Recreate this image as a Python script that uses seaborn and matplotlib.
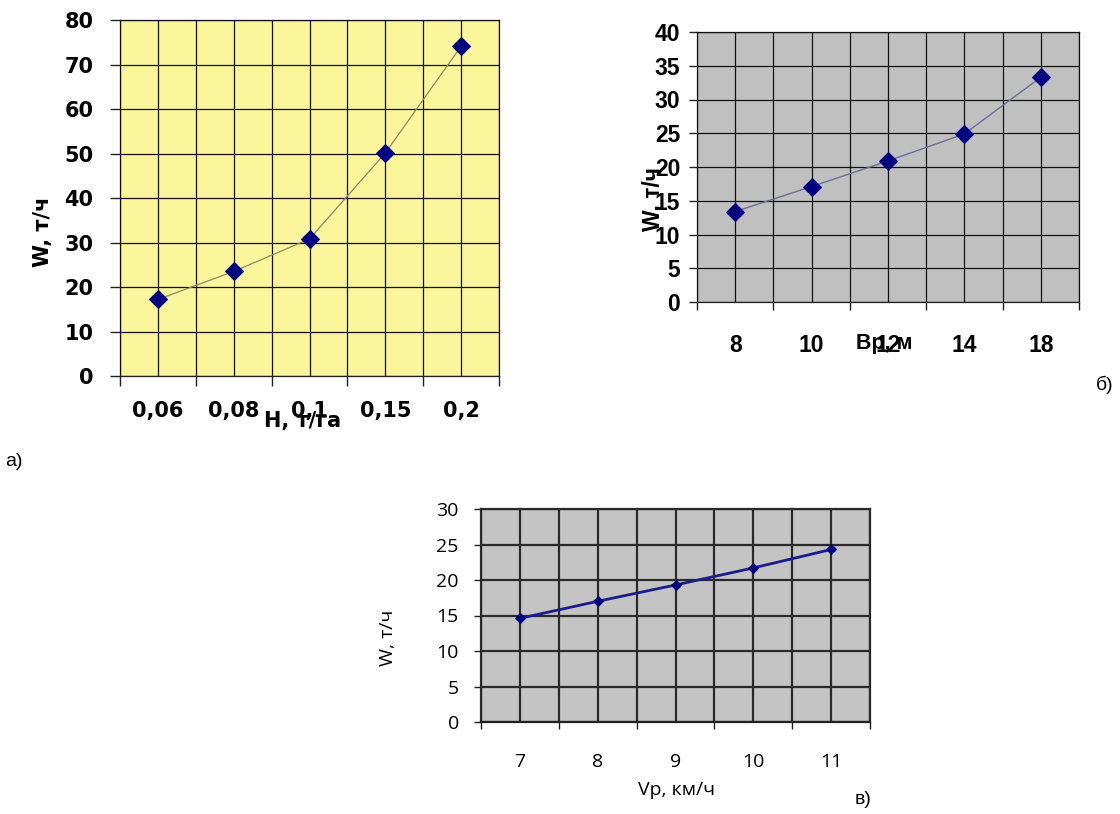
import numpy as np
import matplotlib
matplotlib.use("Agg")
import matplotlib.pyplot as plt
import seaborn as sns

# a) W vs H
a_cats = ["0,06", "0,08", "0,1", "0,15", "0,2"]
a_vals = [17.2, 23.5, 30.8, 50.1, 74.1]
# б) W vs Вр
b_cats = ["8", "10", "12", "14", "18"]
b_vals = [13.4, 17.1, 20.9, 24.9, 33.3]
# в) W vs Vp
c_cats = ["7", "8", "9", "10", "11"]
c_vals = [14.6, 17.0, 19.3, 21.7, 24.3]

W, H = 1120, 814
sns.set_theme(style="white")
plt.rcParams.update({
    "font.family": ["DejaVu Sans"],
    "text.color": "black", "axes.labelcolor": "black",
    "xtick.color": "black", "ytick.color": "black",
})

fig = plt.figure(figsize=(W / 100, H / 100), dpi=100)
fig.patch.set_facecolor("white")


def px_axes(left, right, top, bottom):
    return fig.add_axes([left / W, 1 - bottom / H, (right - left) / W, (bottom - top) / H])


def excel_chart(ax, cats, vals, ymax, ystep, bg, grid_c, grid_lw, line_c, line_lw,
                ms, font, fsize, weight, ytick_pad, ytick_len, xpad):
    n = len(cats)
    x = np.arange(n)
    sns.lineplot(x=x, y=vals, ax=ax, color=line_c, lw=line_lw, marker="D",
                 markersize=ms, markerfacecolor="#000080", markeredgecolor="#000080", zorder=5)
    ax.set_facecolor(bg)
    ax.set_xlim(-0.5, n - 0.5)
    ax.set_ylim(0, ymax)
    ax.set_yticks(np.arange(0, ymax + 0.1, ystep))
    ax.set_xticks(np.arange(-0.5, n, 1.0))
    ax.set_xticklabels([])
    ax.set_xticks(x, minor=True)
    ax.set_xticklabels(cats, minor=True, family=font, fontsize=fsize, fontweight=weight)
    for lab in ax.get_yticklabels():
        lab.set_family(font); lab.set_fontsize(fsize); lab.set_fontweight(weight)
    ax.tick_params(axis="x", which="major", direction="out", length=ytick_len, width=1, color="#222222", bottom=True)
    ax.tick_params(axis="x", which="minor", length=0, pad=xpad, labelcolor="black", bottom=True)
    ax.tick_params(axis="y", direction="out", length=ytick_len, width=1, color="#222222",
                   pad=ytick_pad, left=True, labelcolor="black")
    ax.grid(True, which="both", color=grid_c, lw=grid_lw)
    ax.set_axisbelow(True)
    for s in ax.spines.values():
        s.set_color(grid_c); s.set_linewidth(grid_lw)
    ax.spines["bottom"].set_color("#222222")
    ax.set_xlabel(""); ax.set_ylabel("")


# a)
ax_a = px_axes(120, 499, 20, 376)
excel_chart(ax_a, a_cats, a_vals, 80, 10, "#FBF59C", "#111111", 0.9, "#8A8A6A", 0.9,
            9, ["DejaVu Sans"], 15, "bold", 12, 7, 18)
fig.text(303 / W, 1 - 421 / H, "H, т/га", ha="center", va="center", fontsize=15,
         fontweight="bold", family="DejaVu Sans")
fig.text(43 / W, 1 - 232 / H, "W, т/ч", ha="center", va="center", rotation=90,
         fontsize=15, fontweight="bold", family="DejaVu Sans")

# б)
ax_b = px_axes(697, 1079, 32, 302)
excel_chart(ax_b, b_cats, b_vals, 40, 5, "#C0C0C0", "#111111", 0.9, "#6E6E96", 1.0,
            9, ["Liberation Sans"], 16.5, "bold", 6, 6, 23)
fig.text(884 / W, 1 - 343 / H, "Вр, м", ha="center", va="center", fontsize=15.5,
         fontweight="bold", family="Liberation Sans")
fig.text(653 / W, 1 - 199 / H, "W, т/ч", ha="center", va="center", rotation=90,
         fontsize=16.5, fontweight="bold", family="Liberation Sans")

# в)
ax_c = px_axes(481, 870, 509, 722)
excel_chart(ax_c, c_cats, c_vals, 30, 5, "#C4C4C4", "#2A2A2A", 1.6, "#1C1C8A", 2.0,
            5.5, ["Open Sans"], 14, "normal", 11, 5, 22)
fig.text(676 / W, 1 - 790 / H, "Vp, км/ч", ha="center", va="center", fontsize=14,
         family="Open Sans")
fig.text(388 / W, 1 - 638 / H, "W, т/ч", ha="center", va="center", rotation=90,
         fontsize=14, family="Open Sans")

# panel letters
fig.text(5 / W, 1 - 462 / H, "а)", ha="left", va="center", fontsize=14, family="Liberation Sans")
fig.text(1096 / W, 1 - 385 / H, "б)", ha="left", va="center", fontsize=14, family="Liberation Sans")
fig.text(855 / W, 1 - 800 / H, "в)", ha="left", va="center", fontsize=14, family="Liberation Sans")

fig.savefig("out.png", dpi=100, facecolor="white")
